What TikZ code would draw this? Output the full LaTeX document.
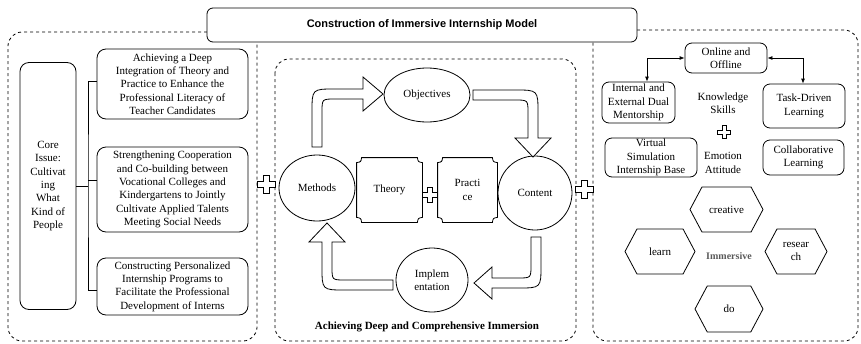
\documentclass[tikz,border=0pt]{standalone}
\usepackage{fontspec}
\setmainfont{Liberation Serif}
\newfontfamily\headfont{Liberation Sans}
\usetikzlibrary{shapes.geometric,shapes.symbols,arrows.meta}

\tikzset{crossmark/.pic={
  \draw[fill=white] (-3,-9) -- (3,-9) -- (3,-3) -- (9,-3) -- (9,3) -- (3,3) -- (3,9)
    -- (-3,9) -- (-3,3) -- (-9,3) -- (-9,-3) -- (-3,-3) -- cycle;}}

% box with concave corners
\newcommand{\notchbox}[1]{%
  \draw ([xshift=5pt]#1.north west) -- ([xshift=-5pt]#1.north east)
    .. controls ([xshift=-4.3pt,yshift=-4.3pt]#1.north east) .. ([yshift=-5pt]#1.north east)
    -- ([yshift=5pt]#1.south east)
    .. controls ([xshift=-4.3pt,yshift=4.3pt]#1.south east) .. ([xshift=-5pt]#1.south east)
    -- ([xshift=5pt]#1.south west)
    .. controls ([xshift=4.3pt,yshift=4.3pt]#1.south west) .. ([yshift=5pt]#1.south west)
    -- ([yshift=-5pt]#1.north west)
    .. controls ([xshift=4.3pt,yshift=-4.3pt]#1.north west) .. ([xshift=5pt]#1.north west) -- cycle;}

\begin{document}
\begin{tikzpicture}[x=1pt, y=-1pt, line width=0.8pt,
  font=\fontsize{11}{13.3}\selectfont,
  goalbox/.style={draw, rounded corners=9pt, align=center, inner sep=0pt, minimum width=151pt},
  stage/.style={draw, ellipse, inner sep=0pt, align=center},
  tagbox/.style={draw, rounded corners=7pt, align=center, inner sep=0pt},
  hexcell/.style={draw, signal, signal to=west and east, signal pointer angle=124, inner sep=0pt, align=center},
  twoway/.style={{Latex[length=5pt,width=4pt]}-{Latex[length=5pt,width=4pt]}}]
 \useasboundingbox (0,0) rectangle (861,343);

 % frames
 \draw[dashed, rounded corners=14pt] (207,32) -- (8,32) -- (8,341) -- (257,341) -- (257,42);
 \draw[dashed, rounded corners=14pt] (637,30) -- (858,30) -- (858,341) -- (593,341) -- (593,42);
 \draw[dashed, rounded corners=14pt] (275,59) rectangle (576,341);

 \node[draw, fill=white, rounded corners=6pt, minimum width=430pt, minimum height=34pt,
   font=\headfont\bfseries\fontsize{11}{13}\selectfont] (title) at (422,25)
   {Construction of Immersive Internship Model};

 % left part
 \node[goalbox, minimum width=56pt, minimum height=247pt] (core) at (48,186)
   {Core\\Issue:\\Cultivat\\ing\\What\\Kind of\\People};
 \node[goalbox, minimum height=70pt] (aim1) at (172.5,84)
   {Achieving a Deep\\Integration of Theory and\\Practice to Enhance the\\Professional Literacy of\\Teacher Candidates};
 \node[goalbox, minimum height=85pt] (aim2) at (172.5,189.5)
   {Strengthening Cooperation\\and Co-building between\\Vocational Colleges and\\Kindergartens to Jointly\\Cultivate Applied Talents\\Meeting Social Needs};
 \node[goalbox, minimum height=57pt] (aim3) at (172.5,286.5)
   {Constructing Personalized\\Internship Programs to\\Facilitate the Professional\\Development of Interns};

 \coordinate (trunk) at (88,186);
 \draw (core.east) -- (trunk);
 \draw ([yshift=3pt]aim1.west) -| (trunk) |- ([yshift=-3.5pt]aim3.west);
 \draw ([yshift=9pt]aim2.west) -- ([yshift=9pt]aim2.west -| trunk);

 \pic at (266,184) {crossmark};
 \pic at (584,189) {crossmark};

 % middle part
 \node[stage, minimum width=86pt, minimum height=54pt] (objectives) at (427,95) {Objectives};
 \node[stage, minimum width=76pt, minimum height=66pt] (methods) at (317,188) {Methods};
 \node[stage, minimum width=74pt, minimum height=74pt] (content) at (535,193) {Content};
 \node[stage, minimum width=72pt, minimum height=64pt] (implement) at (432,280) {Implem\\entation};
 \node[minimum width=65pt, minimum height=64pt, inner sep=0pt] (theory) at (389.5,190) {Theory};
 \node[minimum width=59pt, minimum height=64pt, inner sep=0pt, align=center] (practice) at (467.5,190) {Practi\\ce};
 \notchbox{theory}
 \notchbox{practice}
 \pic[scale=0.83] at (430,195) {crossmark};

 % hollow arrows
 \draw[fill=white] (312,147) -- (312,112) .. controls (312,89) .. (335,89) -- (363,89) -- (363,77)
   -- (383,94) -- (363,111) -- (363,99) -- (335,99) .. controls (322,99) .. (322,112) -- (322,147) -- cycle;
 \draw[fill=white] (473,90) -- (515,90) .. controls (538,90) .. (538,113) -- (538,138) -- (551,138)
   -- (533,157) -- (515,138) -- (528,138) -- (528,113) .. controls (528,100) .. (515,100) -- (473,100) -- cycle;
 \draw[fill=white] (531,237) -- (541,237) -- (541,265) .. controls (541,288) .. (518,288) -- (492,288)
   -- (492,299) -- (474,283) -- (492,267) -- (492,278) -- (518,278) .. controls (531,278) .. (531,265) -- cycle;
 \draw[fill=white] (393,280) -- (345,280) .. controls (332,280) .. (332,267) -- (332,242) -- (345,242)
   -- (327,223) -- (309,242) -- (322,242) -- (322,267) .. controls (322,290) .. (345,290) -- (393,290) -- cycle;

 \node[font=\bfseries\fontsize{11}{13}\selectfont] (caption) at (427,327)
   {Achieving Deep and Comprehensive Immersion};

 % right part
 \node[tagbox, minimum width=82pt, minimum height=30pt] (online) at (726,58) {Online and\\Offline};
 \node[tagbox, minimum width=73pt, minimum height=41pt] (mentor) at (638.5,102.5) {Internal and\\External Dual\\Mentorship};
 \node[tagbox, minimum width=82pt, minimum height=44pt] (task) at (804,106) {Task-Driven\\Learning};
 \node[tagbox, minimum width=92pt, minimum height=39pt] (virtual) at (651,157.5) {Virtual\\Simulation\\Internship Base};
 \node[tagbox, minimum width=81pt, minimum height=35pt] (collab) at (803.5,157.5) {Collaborative\\Learning};
 \node[align=center] (skills) at (723,103) {Knowledge\\Skills};
 \node[align=center] (emotion) at (723,163) {Emotion\\Attitude};
 \pic[scale=0.7] at (724,132) {crossmark};

 \draw[twoway] (online.west) -| ([xshift=8.5pt]mentor.north);
 \draw[twoway] (online.east) -| ([xshift=-1pt]task.north);

 \node[hexcell, minimum width=73pt, minimum height=45pt] (creative) at (726.5,209.5) {creative};
 \node[hexcell, minimum width=70pt, minimum height=45pt] (learn) at (660,251.5) {learn};
 \node[hexcell, minimum width=62pt, minimum height=45pt] (research) at (796,251.5) {resear\\ch};
 \node[hexcell, minimum width=68pt, minimum height=46pt] (do) at (729,309) {do};
 \node[font=\bfseries\fontsize{10}{12}\selectfont, text=black!65] (immersive) at (729,256) {Immersive};
\end{tikzpicture}
\end{document}
